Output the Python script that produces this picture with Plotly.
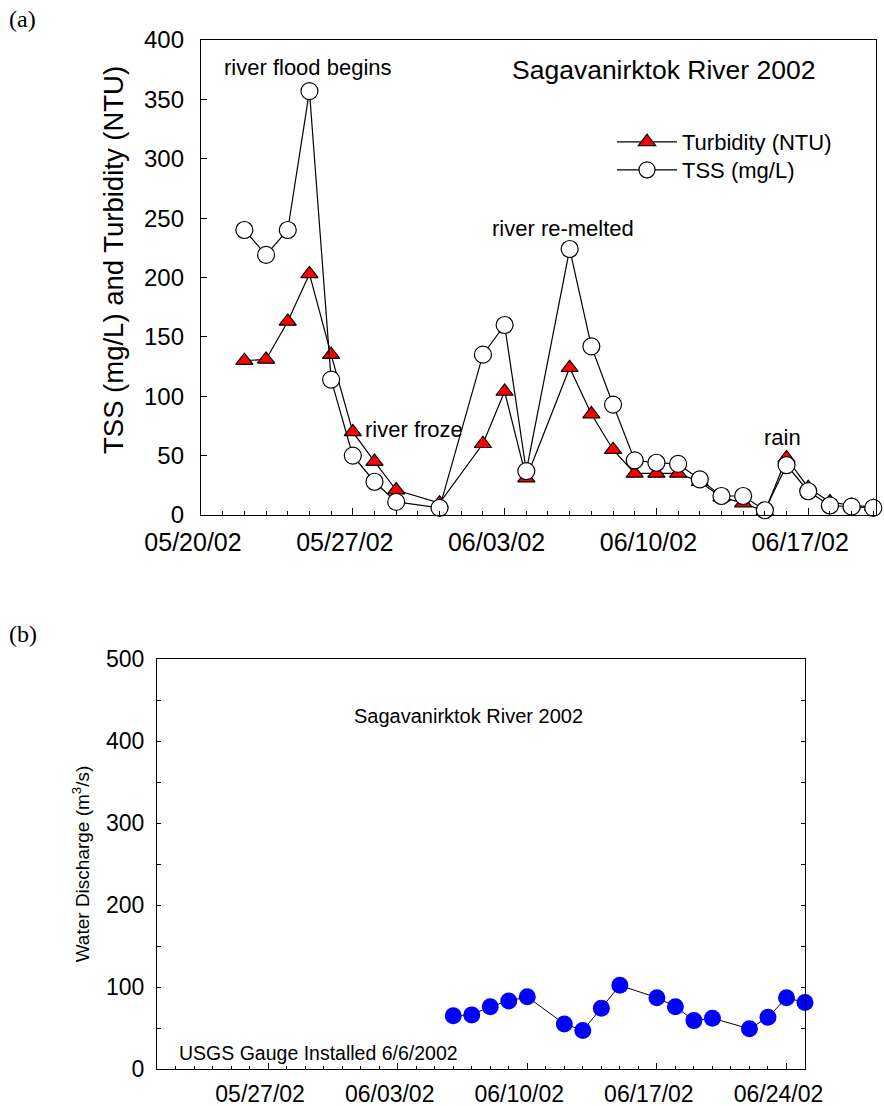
import plotly.graph_objects as go

# panel (a) data - Sagavanirktok River 2002
turb_dates = ["2002-05-22", "2002-05-23", "2002-05-24", "2002-05-25", "2002-05-26",
              "2002-05-27", "2002-05-28", "2002-05-29", "2002-05-31", "2002-06-02",
              "2002-06-03", "2002-06-04", "2002-06-06", "2002-06-07", "2002-06-08",
              "2002-06-09", "2002-06-10", "2002-06-11", "2002-06-12", "2002-06-13",
              "2002-06-14", "2002-06-15", "2002-06-16", "2002-06-17", "2002-06-18",
              "2002-06-19", "2002-06-20"]
turbidity = [130, 131, 163, 203, 135, 70, 45, 21, 10, 60, 104, 31, 124, 85, 55,
             35, 35, 35, 28, 15, 10, 3, 48, 23, 11, 8, 7]

tss_dates = turb_dates
tss = [240, 219, 240, 357, 114, 50, 28, 11, 6, 135, 160, 37, 224, 142, 93,
       46, 44, 43, 30, 16, 16, 4, 42, 20, 8, 7, 6]

# panel (b) data - USGS discharge
q_dates = ["2002-06-06", "2002-06-07", "2002-06-08", "2002-06-09", "2002-06-10",
           "2002-06-12", "2002-06-13", "2002-06-14", "2002-06-15", "2002-06-17",
           "2002-06-18", "2002-06-19", "2002-06-20", "2002-06-22", "2002-06-23",
           "2002-06-24", "2002-06-25"]
discharge = [65, 66, 76, 83, 88, 55, 47, 74, 102, 87, 76, 59, 62, 49, 63, 87, 81]

W, H = 884, 1106
FONT = "Arial, Liberation Sans, sans-serif"
SERIF = "Times New Roman, Liberation Serif, serif"
DAY = 86400000


def px(x):
    return x / W


def py(y):
    return 1 - y / H


fig = go.Figure()

fig.add_trace(go.Scatter(
    x=turb_dates, y=turbidity, name="Turbidity (NTU)", mode="lines+markers",
    line=dict(color="black", width=1.2),
    marker=dict(symbol="triangle-up", size=15, color="#ff0000",
                line=dict(color="black", width=1.2)),
    cliponaxis=False, xaxis="x", yaxis="y", legend="legend"))

fig.add_trace(go.Scatter(
    x=tss_dates, y=tss, name="TSS (mg/L)", mode="lines+markers",
    line=dict(color="black", width=1.2),
    marker=dict(symbol="circle", size=17, color="white",
                line=dict(color="black", width=1.2)),
    cliponaxis=False, xaxis="x", yaxis="y", legend="legend2"))

fig.add_trace(go.Scatter(
    x=q_dates, y=discharge, mode="lines+markers", showlegend=False,
    line=dict(color="black", width=1),
    marker=dict(symbol="circle", size=17, color="#0000ff", line=dict(width=0)),
    cliponaxis=False, xaxis="x2", yaxis="y2"))

ax_common = dict(showline=True, linecolor="black", linewidth=1.3, showgrid=False,
                 zeroline=False, ticks="inside", tickcolor="black", automargin=False)
leg_common = dict(xanchor="left", yanchor="top", bgcolor="rgba(0,0,0,0)",
                  font=dict(size=22), itemwidth=60)

fig.update_layout(
    width=W, height=H,
    margin=dict(l=0, r=0, t=0, b=0),
    paper_bgcolor="white", plot_bgcolor="white",
    font=dict(family=FONT, color="black"),
    xaxis=dict(**ax_common, domain=[px(201), px(876)], anchor="y", type="date",
               range=["2002-05-20", "2002-06-20 03:00"], tick0="2002-05-20",
               dtick=7 * DAY, tickformat="%m/%d/%y", ticklen=7, mirror=True,
               minor=dict(dtick=DAY, ticks="inside", ticklen=4, tickcolor="black"),
               tickfont=dict(size=25), ticklabelstandoff=5, ticklabelshift=-8),
    yaxis=dict(**ax_common, domain=[py(515), py(40)], anchor="x",
               range=[0, 400], dtick=50, ticklen=6, mirror=True,
               tickfont=dict(size=24), ticklabelstandoff=11),
    xaxis2=dict(**ax_common, domain=[px(157), px(805)], anchor="y2", type="date",
                range=["2002-05-21", "2002-06-25"], tick0="2002-05-27",
                dtick=7 * DAY, tickformat="%m/%d/%y", ticklen=6, mirror=True,
                minor=dict(dtick=DAY, ticks="inside", ticklen=3, tickcolor="black"),
                tickfont=dict(size=23), ticklabelstandoff=4, ticklabelshift=-8),
    yaxis2=dict(**ax_common, domain=[py(1069), py(659)], anchor="x2",
                range=[0, 500], dtick=100, ticklen=4, mirror="allticks",
                minor=dict(dtick=50, ticks="inside", ticklen=4, tickcolor="black"),
                tickfont=dict(size=23), ticklabelstandoff=7,
                title=dict(text="Water Discharge (m<sup>3</sup>/s)", font=dict(size=19),
                           standoff=11)),
    legend=dict(**leg_common, x=px(612), y=py(121)),
    legend2=dict(**leg_common, x=px(612), y=py(149)),
)

notes = [
    dict(text="river flood begins", x="2002-05-24 22:00", y=377, xanchor="center"),
    dict(text="river froze", x="2002-05-27 11:00", y=72, xanchor="left"),
    dict(text="river re-melted", x="2002-06-05 17:00", y=241, xanchor="center"),
    dict(text="rain", x="2002-06-15 19:00", y=65, xanchor="center"),
]
for n in notes:
    fig.add_annotation(text=n["text"], x=n["x"], y=n["y"], xref="x", yref="y",
                       xanchor=n["xanchor"], yanchor="middle", showarrow=False,
                       font=dict(size=22))

# y title of panel (a) sits a bit above the axis centre in the original
fig.add_annotation(text="TSS (mg/L) and Turbidity (NTU)", x=px(113), y=py(260),
                   xref="paper", yref="paper", xanchor="center", yanchor="middle",
                   textangle=-90, showarrow=False, font=dict(size=27.5))
fig.add_annotation(text="Sagavanirktok River 2002", x=px(663), y=py(70),
                   xref="paper", yref="paper", xanchor="center", yanchor="middle",
                   showarrow=False, font=dict(size=26.5))
fig.add_annotation(text="Sagavanirktok River 2002", x=px(468), y=py(716),
                   xref="paper", yref="paper", xanchor="center", yanchor="middle",
                   showarrow=False, font=dict(size=20))
fig.add_annotation(text="USGS Gauge Installed 6/6/2002", x=px(177), y=py(1053),
                   xref="paper", yref="paper", xanchor="left", yanchor="middle",
                   showarrow=False, font=dict(size=19.5))
fig.add_annotation(text="(a)", x=px(7), y=py(19), xref="paper", yref="paper",
                   xanchor="left", yanchor="middle", showarrow=False,
                   font=dict(size=24, family=SERIF))
fig.add_annotation(text="(b)", x=px(7), y=py(634), xref="paper", yref="paper",
                   xanchor="left", yanchor="middle", showarrow=False,
                   font=dict(size=24, family=SERIF))

# drop the default page margin so the figure fills the 884x1106 window exactly
fig.write_html("out.html", config={"displayModeBar": False},
               post_script="document.body.style.margin='0';"
                           "document.body.style.overflow='hidden';")
